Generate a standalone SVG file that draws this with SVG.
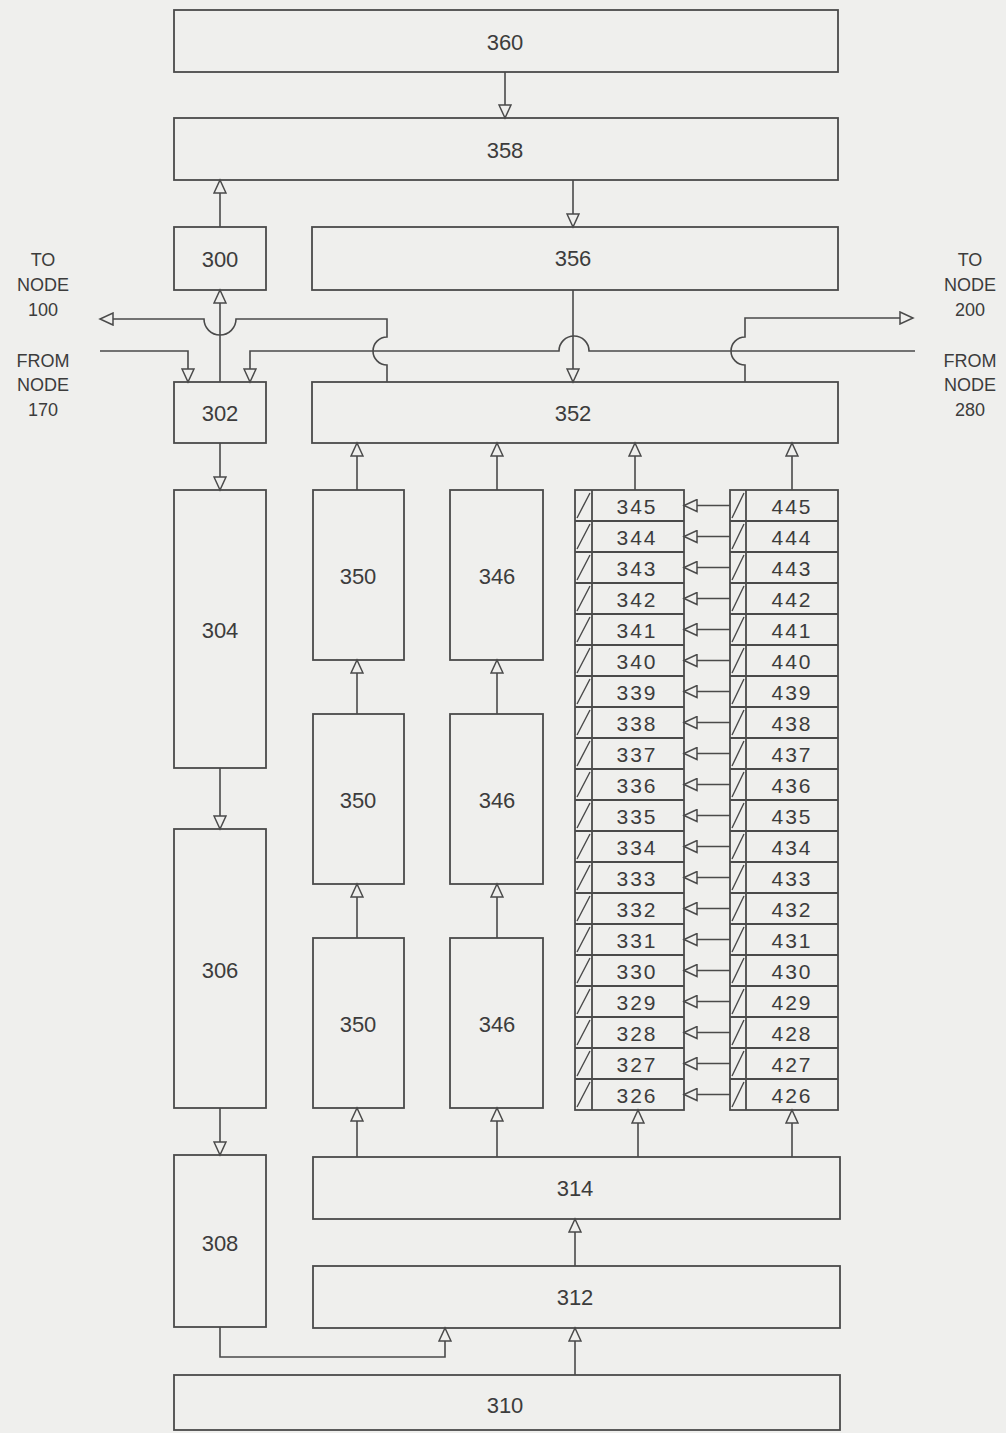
<svg xmlns="http://www.w3.org/2000/svg" width="1006" height="1433" viewBox="0 0 1006 1433">
<defs>
<style>
.box{fill:none;stroke:#4a4a4a;stroke-width:1.8}
.ln{fill:none;stroke:#4a4a4a;stroke-width:1.6}
.arr{marker-end:url(#ah)}
.t{font-family:"Liberation Sans",Arial,sans-serif;font-size:22px;fill:#3c3c3c;text-anchor:middle;dominant-baseline:central}
.r{font-family:"Liberation Sans",Arial,sans-serif;font-size:21px;fill:#3c3c3c;text-anchor:middle;dominant-baseline:central;letter-spacing:2px}
.lab{font-family:"Liberation Sans",Arial,sans-serif;font-size:18px;fill:#3c3c3c;text-anchor:middle}
.hatch{fill:none;stroke:#4a4a4a;stroke-width:1.4}
</style>
<marker id="ah" markerUnits="userSpaceOnUse" markerWidth="16" markerHeight="14" refX="14" refY="7" orient="auto">
<path d="M1,1 L14,7 L1,13 Z" fill="#efefed" stroke="#4a4a4a" stroke-width="1.5"/>
</marker>
</defs>
<rect x="0" y="0" width="1006" height="1433" fill="#efefed"/>

<g id="connectors">
<path class="ln arr" d="M505,72 V118"/>
<path class="ln arr" d="M573,180 V227"/>
<path class="ln arr" d="M220,227 V180"/>
<path class="ln arr" d="M220,382 V290"/>
<path class="ln arr" d="M387,382 V365 A14,14 0 0 1 387,337 V319 H236 A16,16 0 0 1 204,319 H100"/>
<path class="ln arr" d="M100,351 H188 V382"/>
<path class="ln arr" d="M915,351 H589 A15,15 0 0 0 559,351 H250 V382"/>
<path class="ln arr" d="M573,290 V382"/>
<path class="ln arr" d="M745,382 V365 A14,14 0 0 1 745,337 V318 H913"/>
<path class="ln arr" d="M220,443 V490"/>
<path class="ln arr" d="M220,768 V829"/>
<path class="ln arr" d="M220,1108 V1155"/>
<path class="ln arr" d="M220,1327 V1357 H445 V1328"/>
<path class="ln arr" d="M575,1375 V1328"/>
<path class="ln arr" d="M575,1266 V1219"/>
<path class="ln arr" d="M357,1157 V1108"/>
<path class="ln arr" d="M497,1157 V1108"/>
<path class="ln arr" d="M638,1157 V1110"/>
<path class="ln arr" d="M792,1157 V1110"/>
<path class="ln arr" d="M357,938 V884"/>
<path class="ln arr" d="M357,714 V660"/>
<path class="ln arr" d="M357,490 V443"/>
<path class="ln arr" d="M497,938 V884"/>
<path class="ln arr" d="M497,714 V660"/>
<path class="ln arr" d="M497,490 V443"/>
<path class="ln arr" d="M635,490 V443"/>
<path class="ln arr" d="M792,490 V443"/>
<path class="ln arr" d="M730,505.5 H684"/>
<path class="ln arr" d="M730,536.5 H684"/>
<path class="ln arr" d="M730,567.5 H684"/>
<path class="ln arr" d="M730,598.5 H684"/>
<path class="ln arr" d="M730,629.5 H684"/>
<path class="ln arr" d="M730,660.5 H684"/>
<path class="ln arr" d="M730,691.5 H684"/>
<path class="ln arr" d="M730,722.5 H684"/>
<path class="ln arr" d="M730,753.5 H684"/>
<path class="ln arr" d="M730,784.5 H684"/>
<path class="ln arr" d="M730,815.5 H684"/>
<path class="ln arr" d="M730,846.5 H684"/>
<path class="ln arr" d="M730,877.5 H684"/>
<path class="ln arr" d="M730,908.5 H684"/>
<path class="ln arr" d="M730,939.5 H684"/>
<path class="ln arr" d="M730,970.5 H684"/>
<path class="ln arr" d="M730,1001.5 H684"/>
<path class="ln arr" d="M730,1032.5 H684"/>
<path class="ln arr" d="M730,1063.5 H684"/>
<path class="ln arr" d="M730,1094.5 H684"/>
</g>

<g id="labels">
<text class="lab" x="43" y="266">TO</text>
<text class="lab" x="43" y="291">NODE</text>
<text class="lab" x="43" y="316">100</text>
<text class="lab" x="43" y="367">FROM</text>
<text class="lab" x="43" y="391">NODE</text>
<text class="lab" x="43" y="416">170</text>
<text class="lab" x="970" y="266">TO</text>
<text class="lab" x="970" y="291">NODE</text>
<text class="lab" x="970" y="316">200</text>
<text class="lab" x="970" y="367">FROM</text>
<text class="lab" x="970" y="391">NODE</text>
<text class="lab" x="970" y="416">280</text>
</g>

<g id="n360"><rect class="box" x="174" y="10" width="664" height="62"/><text class="t" x="505" y="42">360</text></g>
<g id="n358"><rect class="box" x="174" y="118" width="664" height="62"/><text class="t" x="505" y="150">358</text></g>
<g id="n300"><rect class="box" x="174" y="227" width="92" height="63"/><text class="t" x="220" y="259">300</text></g>
<g id="n356"><rect class="box" x="312" y="227" width="526" height="63"/><text class="t" x="573" y="258">356</text></g>
<g id="n302"><rect class="box" x="174" y="382" width="92" height="61"/><text class="t" x="220" y="413">302</text></g>
<g id="n352"><rect class="box" x="312" y="382" width="526" height="61"/><text class="t" x="573" y="413">352</text></g>
<g id="n304"><rect class="box" x="174" y="490" width="92" height="278"/><text class="t" x="220" y="630">304</text></g>
<g id="n306"><rect class="box" x="174" y="829" width="92" height="279"/><text class="t" x="220" y="970">306</text></g>
<g id="n308"><rect class="box" x="174" y="1155" width="92" height="172"/><text class="t" x="220" y="1243">308</text></g>
<g id="n350a"><rect class="box" x="313" y="490" width="91" height="170"/><text class="t" x="358" y="576">350</text></g>
<g id="n350b"><rect class="box" x="313" y="714" width="91" height="170"/><text class="t" x="358" y="800">350</text></g>
<g id="n350c"><rect class="box" x="313" y="938" width="91" height="170"/><text class="t" x="358" y="1024">350</text></g>
<g id="n346a"><rect class="box" x="450" y="490" width="93" height="170"/><text class="t" x="497" y="576">346</text></g>
<g id="n346b"><rect class="box" x="450" y="714" width="93" height="170"/><text class="t" x="497" y="800">346</text></g>
<g id="n346c"><rect class="box" x="450" y="938" width="93" height="170"/><text class="t" x="497" y="1024">346</text></g>
<g id="n314"><rect class="box" x="313" y="1157" width="527" height="62"/><text class="t" x="575" y="1188">314</text></g>
<g id="n312"><rect class="box" x="313" y="1266" width="527" height="62"/><text class="t" x="575" y="1297">312</text></g>
<g id="n310"><rect class="box" x="174" y="1375" width="666" height="55"/><text class="t" x="505" y="1405">310</text></g>

<g id="reg300">
<rect class="box" x="575" y="490" width="109" height="620"/>
<line class="box" x1="592" y1="490" x2="592" y2="1110"/>
<path class="box" d="M575,521 H684 M575,552 H684 M575,583 H684 M575,614 H684 M575,645 H684 M575,676 H684 M575,707 H684 M575,738 H684 M575,769 H684 M575,800 H684 M575,831 H684 M575,862 H684 M575,893 H684 M575,924 H684 M575,955 H684 M575,986 H684 M575,1017 H684 M575,1048 H684 M575,1079 H684"/>
<path class="hatch" d="M577,518 L590,493 M577,549 L590,524 M577,580 L590,555 M577,611 L590,586 M577,642 L590,617 M577,673 L590,648 M577,704 L590,679 M577,735 L590,710 M577,766 L590,741 M577,797 L590,772 M577,828 L590,803 M577,859 L590,834 M577,890 L590,865 M577,921 L590,896 M577,952 L590,927 M577,983 L590,958 M577,1014 L590,989 M577,1045 L590,1020 M577,1076 L590,1051 M577,1107 L590,1082"/>
<text class="r" x="637" y="506">345</text>
<text class="r" x="637" y="537">344</text>
<text class="r" x="637" y="568">343</text>
<text class="r" x="637" y="599">342</text>
<text class="r" x="637" y="630">341</text>
<text class="r" x="637" y="661">340</text>
<text class="r" x="637" y="692">339</text>
<text class="r" x="637" y="723">338</text>
<text class="r" x="637" y="754">337</text>
<text class="r" x="637" y="785">336</text>
<text class="r" x="637" y="816">335</text>
<text class="r" x="637" y="847">334</text>
<text class="r" x="637" y="878">333</text>
<text class="r" x="637" y="909">332</text>
<text class="r" x="637" y="940">331</text>
<text class="r" x="637" y="971">330</text>
<text class="r" x="637" y="1002">329</text>
<text class="r" x="637" y="1033">328</text>
<text class="r" x="637" y="1064">327</text>
<text class="r" x="637" y="1095">326</text>
</g>

<g id="reg400">
<rect class="box" x="730" y="490" width="108" height="620"/>
<line class="box" x1="746" y1="490" x2="746" y2="1110"/>
<path class="box" d="M730,521 H838 M730,552 H838 M730,583 H838 M730,614 H838 M730,645 H838 M730,676 H838 M730,707 H838 M730,738 H838 M730,769 H838 M730,800 H838 M730,831 H838 M730,862 H838 M730,893 H838 M730,924 H838 M730,955 H838 M730,986 H838 M730,1017 H838 M730,1048 H838 M730,1079 H838"/>
<path class="hatch" d="M732,518 L744,493 M732,549 L744,524 M732,580 L744,555 M732,611 L744,586 M732,642 L744,617 M732,673 L744,648 M732,704 L744,679 M732,735 L744,710 M732,766 L744,741 M732,797 L744,772 M732,828 L744,803 M732,859 L744,834 M732,890 L744,865 M732,921 L744,896 M732,952 L744,927 M732,983 L744,958 M732,1014 L744,989 M732,1045 L744,1020 M732,1076 L744,1051 M732,1107 L744,1082"/>
<text class="r" x="792" y="506">445</text>
<text class="r" x="792" y="537">444</text>
<text class="r" x="792" y="568">443</text>
<text class="r" x="792" y="599">442</text>
<text class="r" x="792" y="630">441</text>
<text class="r" x="792" y="661">440</text>
<text class="r" x="792" y="692">439</text>
<text class="r" x="792" y="723">438</text>
<text class="r" x="792" y="754">437</text>
<text class="r" x="792" y="785">436</text>
<text class="r" x="792" y="816">435</text>
<text class="r" x="792" y="847">434</text>
<text class="r" x="792" y="878">433</text>
<text class="r" x="792" y="909">432</text>
<text class="r" x="792" y="940">431</text>
<text class="r" x="792" y="971">430</text>
<text class="r" x="792" y="1002">429</text>
<text class="r" x="792" y="1033">428</text>
<text class="r" x="792" y="1064">427</text>
<text class="r" x="792" y="1095">426</text>
</g>
</svg>
